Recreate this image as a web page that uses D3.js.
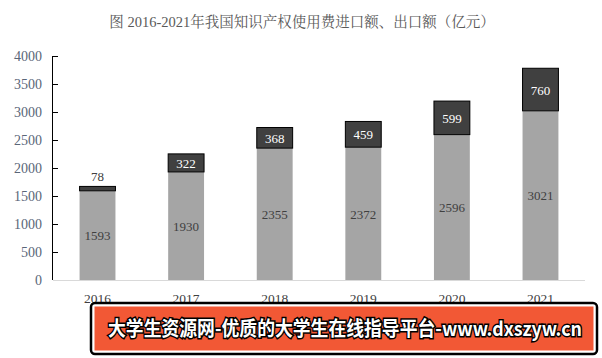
<!DOCTYPE html>
<html><head><meta charset="utf-8">
<script src="https://cdn.jsdelivr.net/npm/d3@7"></script>
<style>body{margin:0;background:#fff}svg{display:block}</style>
</head><body>
<script>
const years = ["2016","2017","2018","2019","2020","2021"];
const imports = [1593,1930,2355,2372,2596,3021];
const exports = [78,322,368,459,599,760];
const yTicks = [0,500,1000,1500,2000,2500,3000,3500,4000];
const title = "图 2016-2021年我国知识产权使用费进口额、出口额（亿元）";
const banner = "大学生资源网-优质的大学生在线指导平台-www.dxszyw.cn";

const W=602,H=358;
const svg=d3.select("body").append("svg").attr("width",W).attr("height",H);
const font='"Liberation Serif","Noto Serif CJK SC","Noto Sans CJK SC",serif';
const x=d3.scaleBand().domain(years).range([53,585]).paddingInner(0.595).paddingOuter(0.3);
const y=d3.scaleLinear().domain([0,4000]).range([280,56]);

svg.append("text").attr("x",302).attr("y",27).attr("text-anchor","middle")
 .attr("font-family",font).attr("font-size",14.5).attr("fill","#595959").text(title);

// y axis (ticks point inward)
const ya=svg.append("g").attr("transform","translate(53,0)")
 .call(d3.axisLeft(y).tickValues(yTicks).tickFormat(d3.format("d")).tickSizeInner(-5).tickSizeOuter(0).tickPadding(11));
ya.select(".domain").attr("stroke","#000").attr("d","M-0.5,56V280");
ya.selectAll(".tick line").attr("stroke","#000");
ya.selectAll("text").attr("font-family",font).attr("font-size",14).attr("fill","#5a6678");
// x axis
const xa=svg.append("g").attr("transform","translate(0,280)").call(d3.axisBottom(x).tickSize(0).tickPadding(13));
xa.select(".domain").attr("stroke","#d9d9d9").attr("d","M53,0.5H585");
xa.selectAll("text").attr("font-family",font).attr("font-size",13.5).attr("fill","#404040");

const g=svg.append("g");
years.forEach((yr,i)=>{
  const bx=x(yr), bw=x.bandwidth();
  g.append("rect").attr("x",bx).attr("y",y(imports[i])).attr("width",bw).attr("height",y(0)-y(imports[i])).attr("fill","#a5a5a5");
  g.append("rect").attr("x",bx).attr("y",y(imports[i]+exports[i])).attr("width",bw).attr("height",y(imports[i])-y(imports[i]+exports[i]))
   .attr("fill","#404040").attr("stroke","#000").attr("stroke-width",1);
  g.append("text").attr("x",bx+bw/2).attr("y",(y(0)+y(imports[i]))/2+5).attr("text-anchor","middle")
   .attr("font-family",font).attr("font-size",13).attr("fill","#404040").text(imports[i]);
  const small = (y(imports[i])-y(imports[i]+exports[i]))<14;
  g.append("text").attr("x",bx+bw/2)
   .attr("y", small ? y(imports[i]+exports[i])-5 : (y(imports[i])+y(imports[i]+exports[i]))/2+5)
   .attr("text-anchor","middle").attr("font-family",font).attr("font-size",13)
   .attr("fill", small?"#404040":"#fff").text(exports[i]);
});

// banner
svg.append("rect").attr("x",91).attr("y",303).attr("width",506).attr("height",51).attr("rx",4)
 .attr("fill","#fff").attr("stroke","#000").attr("stroke-width",2.5);
svg.append("rect").attr("x",94.5).attr("y",306.5).attr("width",499).attr("height",44)
 .attr("fill","#f25835");
const bt=svg.append("text").attr("text-anchor","middle")
 .attr("font-family",'"Noto Sans CJK SC",sans-serif').attr("font-weight","bold").attr("font-size",20)
 .attr("fill","#fff").attr("stroke","#000").attr("stroke-width",3).attr("paint-order","stroke")
 .text(banner);
const natW=bt.node().getComputedTextLength();
bt.attr("transform",`translate(345,335.5) scale(${474/natW},1)`);
</script>
</body></html>
